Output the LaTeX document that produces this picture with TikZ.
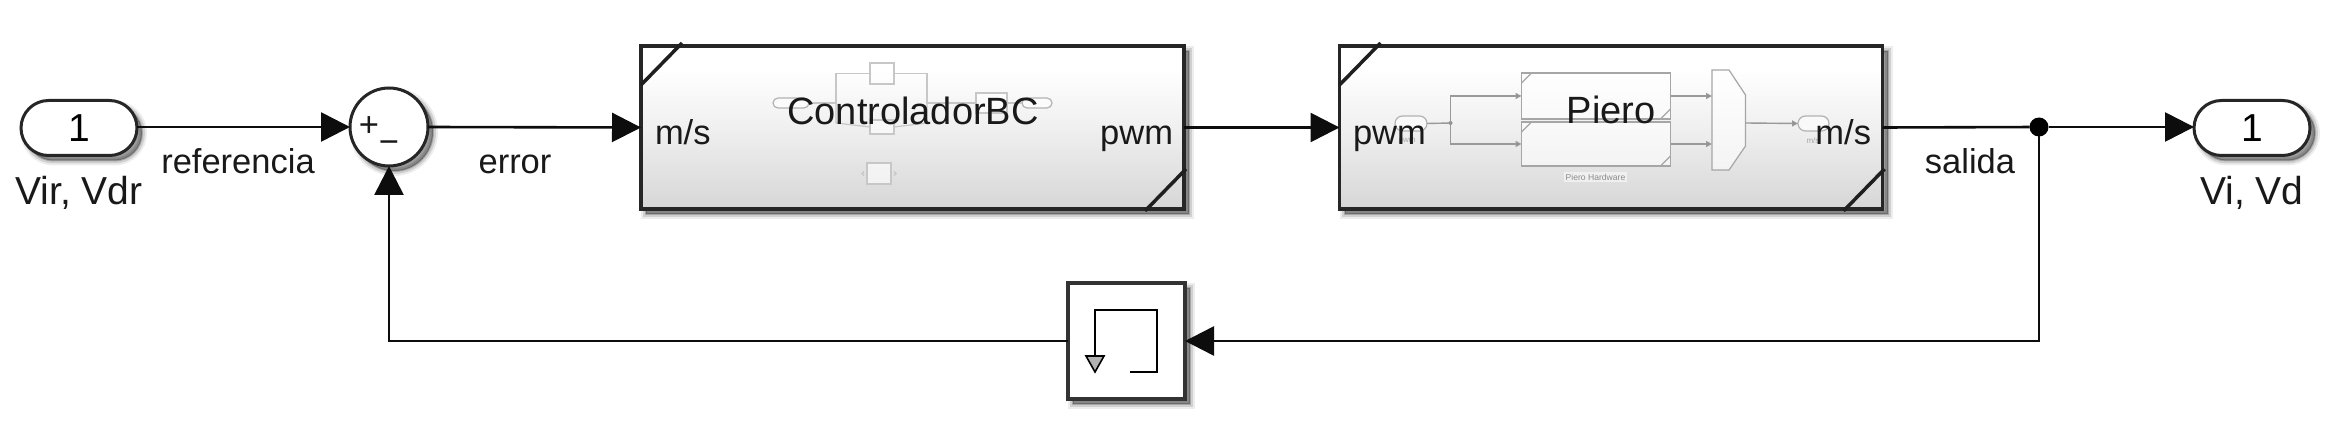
\documentclass[tikz,border=0pt]{standalone}
\usepackage{fontspec}
\setmainfont{Liberation Sans}
\usetikzlibrary{arrows.meta,shapes.misc}
\pgfdeclareverticalshading{blockfade}{100bp}{color(0bp)=(black!16); color(25bp)=(black!16); color(50bp)=(black!6); color(68bp)=(white); color(100bp)=(white)}
\tikzset{
  softshadow/.style={
    preaction={draw=black,fill=black,draw opacity=.07,fill opacity=.07,line width=10pt,transform canvas={shift={(5pt,-5pt)}}},
    preaction={draw=black,fill=black,draw opacity=.12,fill opacity=.12,line width=6pt,transform canvas={shift={(5pt,-5pt)}}},
    preaction={draw=black,fill=black,draw opacity=.2,fill opacity=.2,line width=2pt,transform canvas={shift={(5pt,-5pt)}}}},
  wire/.style={line width=2.6pt,black!95},
  arrowwire/.style={wire,-{Triangle[length=29pt,width=29pt]}},
  port/.style={rounded rectangle,draw=black!85,line width=3pt,fill=white,minimum width=116pt,minimum height=55pt,inner sep=0pt,outer sep=0pt,softshadow,font=\fontsize{39}{44}\selectfont},
  sumblock/.style={circle,draw=black!85,line width=3pt,fill=white,minimum size=78pt,inner sep=0pt,outer sep=0pt,softshadow},
  subsys/.style={rectangle,draw=black!85,line width=3.5pt,shading=blockfade,minimum width=543pt,minimum height=163pt,inner sep=0pt,outer sep=0pt,softshadow},
  delayblock/.style={rectangle,draw=black!80,line width=4pt,fill=white,minimum width=117pt,minimum height=116pt,inner sep=0pt,outer sep=0pt,softshadow},
  lab/.style={inner sep=0pt,outer sep=0pt,font=\fontsize{34.5}{40}\selectfont,text=black!90},
  portlab/.style={lab,font=\fontsize{39}{44}\selectfont},
  corner/.style={line width=3.5pt,black!88},
  ghost/.style={draw=black!22,line width=1.2pt},
  ghostbox/.style={rectangle,draw=black!22,line width=1.2pt,fill=white,fill opacity=.6,inner sep=0pt,outer sep=0pt},
  ghostpill/.style={rounded rectangle,draw=black!30,line width=1.2pt,fill=white,fill opacity=.6,inner sep=0pt,outer sep=0pt},
  gwire/.style={draw=black!40,line width=1.4pt},
  garrow/.style={draw=black!40,line width=1.4pt,-{Triangle[length=6pt,width=6pt,fill=black!50]}},
  icon/.style={line width=2.2pt,black}
}
\begin{document}
\begin{tikzpicture}[x=1pt,y=-1pt]
\useasboundingbox[fill=white] (0,0) rectangle (2328,430);

% main blocks
\node[port] (inp) at (79,128) {1};
\node[sumblock] (sum) at (389,127) {};
\node[subsys] (bc) at (912.5,127.5) {};
\node[subsys] (pi) at (1611,127.5) {};
\node[delayblock] (dl) at (1126.5,341) {};
\node[port] (outp) at (2252,128) {1};

% sum signs
\node[lab] (plus) at (369,127) {+};
\node[lab] (minus) at (389,147) {−};

% corner marks
\draw[corner] (bc.north west) ++(0,39) -- ++(41,-42);
\draw[corner] (bc.south east) ++(-39,2) -- ++(41,-42);
\draw[corner] (pi.north west) ++(0,39) -- ++(41,-42);
\draw[corner] (pi.south east) ++(-39,2) -- ++(41,-42);

% ghost contents of ControladorBC
\node[ghostbox,minimum width=24pt,minimum height=21pt] (c1) at (882,73.5) {};
\node[ghostbox,minimum width=24pt,minimum height=14pt] (c2) at (882,127) {};
\node[ghostbox,minimum width=31pt,minimum height=20pt] (c3) at (991.5,103) {};
\node[ghostpill,minimum width=36pt,minimum height=10pt] (c4) at (791,103) {};
\node[ghostpill,minimum width=30pt,minimum height=10pt] (c5) at (1037,103) {};
\node[ghostbox,minimum width=24pt,minimum height=21pt] (c6) at (879,173.5) {};
\draw[ghost] (c4.east) -- (836,103) -- (836,73.5) -- (c1.west);
\draw[ghost] (c1.east) -- (927,73.5) -- (927,103) -- (c3.west);
\draw[ghost] (836,103) -- (836,123) -- (c2.west);
\draw[ghost] (c2.east) -- (927,123) -- (927,103);
\draw[ghost] (c3.east) -- (c5.west);
\draw[ghost] (c6.west) ++(-3,-2) -- ++(-2,2) -- ++(2,2);
\draw[ghost] (c6.east) ++(3,-2) -- ++(2,2) -- ++(-2,2);

% ghost contents of Piero
\node[ghostpill,minimum width=32pt,minimum height=15pt] (p1) at (1411,123.5) {};
\node[ghostpill,minimum width=31pt,minimum height=15pt] (p2) at (1813.5,123.5) {};
\node[ghostbox,draw=black!35,minimum width=149pt,minimum height=46pt] (h1) at (1596,96) {};
\node[ghostbox,draw=black!35,minimum width=149pt,minimum height=44pt] (h2) at (1596,144) {};
\coordinate (mA) at (1712,96);
\coordinate (mB) at (1712,144);
\coordinate (mO) at (1745.5,123);
\coordinate (jn) at (1450.5,123);
\draw[ghost,draw=black!35,fill=white,fill opacity=.6] (1712,70) -- (1729,70) -- (1745.5,95) -- (1745.5,146) -- (1729,170) -- (1712,170) -- cycle;
\draw[gwire] (p1.east) -- (jn);
\fill[black!45] (jn) circle (2pt);
\draw[garrow] (jn) |- (h1.west);
\draw[garrow] (jn) |- (h2.west);
\draw[garrow] (h1.east) -- (mA);
\draw[garrow] (h2.east) -- (mB);
\draw[garrow] (mO) -- (p2.west);
\draw[ghost,draw=black!35] (h1.north west) ++(0,10) -- ++(10,-10);
\draw[ghost,draw=black!35] (h1.south east) ++(-10,0) -- ++(10,-10);
\draw[ghost,draw=black!35] (h2.north west) ++(0,10) -- ++(10,-10);
\draw[ghost,draw=black!35] (h2.south east) ++(-10,0) -- ++(10,-10);
\node[inner sep=2pt,fill=white,fill opacity=.5,text opacity=1,text=black!45,font=\fontsize{8.6}{10}\selectfont] (ph) at (1595.5,177) {Piero Hardware};
\node[inner sep=0pt,text=black!35,font=\fontsize{8}{10}\selectfont] (pl1) at (1407,141) {pwm};
\node[inner sep=0pt,text=black!35,font=\fontsize{8}{10}\selectfont] (pl2) at (1813,141) {m/s};

% block labels
\node[lab,anchor=base,font=\fontsize{38}{46}\selectfont] (cname) at (913,125) {ControladorBC};
\node[lab,anchor=base,font=\fontsize{38}{46}\selectfont] (pname) at (1611,124) {Piero};
\node[lab,anchor=base west] (bcin) at (655,145) {m/s};
\node[lab,anchor=base east] (bcout) at (1173,145) {pwm};
\node[lab,anchor=base west] (piin) at (1353,145) {pwm};
\node[lab,anchor=base east] (piout) at (1871,145) {m/s};

% delay icon
\coordinate (dA) at (1130,372);
\coordinate (dB) at (1157,372);
\coordinate (dC) at (1157,310);
\coordinate (dD) at (1095,310);
\coordinate (dE) at (1095,356);
\draw[icon] (dA) -- (dB) -- (dC) -- (dD) -- (dE);
\draw[line width=1.6pt,fill=black!30] (1086,356) -- (1104,356) -- (1095,372) -- cycle;

% junction
\node[circle,fill=black,minimum size=19pt,inner sep=0pt,outer sep=0pt] (jct) at (2039,127) {};

% connectors
\draw[arrowwire] (inp.east |- sum.west) -- (sum.west);
\draw[arrowwire] (sum.east) -- (bc.west);
\draw[arrowwire] (bc.east) -- (pi.west);
\draw[wire] (pi.east) -- (jct);
\draw[arrowwire] (jct) -- (outp.west |- jct);
\draw[arrowwire] (jct) |- (dl.east);
\draw[arrowwire] (dl.west) -| (sum.south);

% signal and port labels
\node[lab,anchor=base] (ref) at (238,174) {referencia};
\node[lab,anchor=base] (err) at (515,174) {error};
\node[lab,anchor=base] (sal) at (1970,174) {salida};
\node[portlab,anchor=base] (vin) at (79,205) {Vir, Vdr};
\node[portlab,anchor=base] (vout) at (2252,205) {Vi, Vd};
\end{tikzpicture}
\end{document}
